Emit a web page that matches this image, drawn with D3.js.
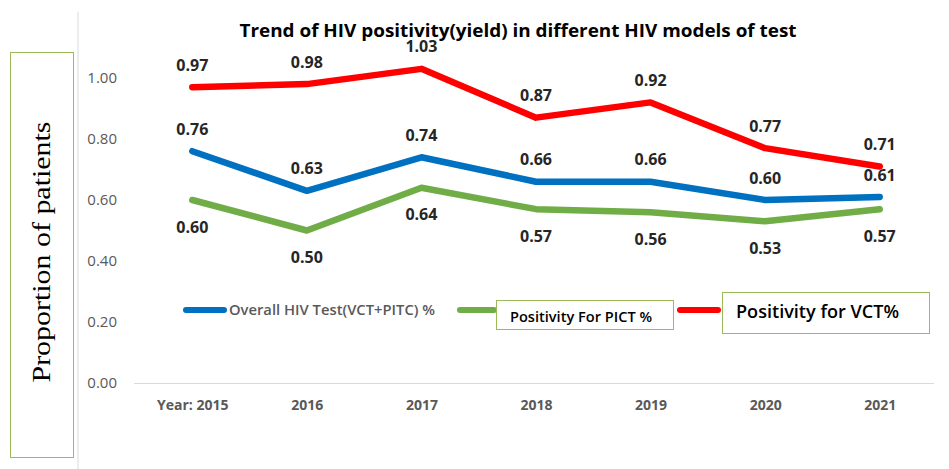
<!DOCTYPE html>
<html>
<head>
<meta charset="utf-8">
<script src="https://cdn.jsdelivr.net/npm/d3@7"></script>
<style>
  body { margin: 0; background: #fff; }
  svg { display: block; }
</style>
</head>
<body>
<svg id="chart" width="949" height="469"></svg>
<script>
// chart data
var years = ["Year: 2015", "2016", "2017", "2018", "2019", "2020", "2021"];
var overallPct = [0.76, 0.63, 0.74, 0.66, 0.66, 0.60, 0.61];
var pictPct = [0.60, 0.50, 0.64, 0.57, 0.56, 0.53, 0.57];
var vctPct = [0.97, 0.98, 1.03, 0.87, 0.92, 0.77, 0.71];
var yTicks = [0, 0.2, 0.4, 0.6, 0.8, 1.0];
var seriesNames = ["Overall HIV Test(VCT+PITC) %", "Positivity For PICT %", "Positivity for VCT%"];

var series = [
    { name: seriesNames[0], values: overallPct, color: "#0070c0", dy: -22 },
    { name: seriesNames[1], values: pictPct, color: "#70ad47", dy: 27 },
    { name: seriesNames[2], values: vctPct, color: "#ff0000", dy: -22 }
];

var svg = d3.select("#chart");
var font = "'Open Sans', 'Noto Sans', sans-serif";

// Scales
var x = d3.scalePoint().domain(years).range([135, 937]).padding(0.5);
var y = d3.scaleLinear().domain([0, 1]).range([383, 78]);

// left divider line
svg.append("line")
    .attr("x1", 78).attr("x2", 78)
    .attr("y1", 12).attr("y2", 469)
    .attr("stroke", "#d9d9d9").attr("stroke-width", 1);

// y axis title box
svg.append("rect")
    .attr("x", 10.5).attr("y", 52.5)
    .attr("width", 63).attr("height", 405)
    .attr("fill", "none")
    .attr("stroke", "#9bbb59").attr("stroke-width", 1);

svg.append("text")
    .attr("transform", "translate(50,252) rotate(-90)")
    .attr("text-anchor", "middle")
    .attr("font-family", "'Liberation Serif', 'DejaVu Serif', serif")
    .attr("font-size", 26)
    .attr("textLength", 261)
    .attr("lengthAdjust", "spacingAndGlyphs")
    .attr("fill", "#000")
    .text("Proportion of patients");

// Title
svg.append("text")
    .attr("x", 518).attr("y", 37)
    .attr("text-anchor", "middle")
    .attr("font-family", font)
    .attr("font-weight", "bold")
    .attr("font-size", 17)
    .attr("textLength", 557)
    .attr("lengthAdjust", "spacingAndGlyphs")
    .attr("fill", "#000")
    .text("Trend of HIV positivity(yield) in different HIV models of test");

// y axis (labels only)
var yAxis = svg.append("g")
    .attr("transform", "translate(117,0)")
    .call(d3.axisLeft(y).tickValues(yTicks).tickFormat(d3.format(".2f")).tickSize(0).tickPadding(0));
yAxis.select(".domain").remove();
yAxis.selectAll("text")
    .attr("font-family", font)
    .attr("font-size", 15)
    .attr("fill", "#595959");

// x axis
var xAxis = svg.append("g")
    .attr("transform", "translate(0,383)")
    .call(d3.axisBottom(x).tickSize(0).tickPadding(17));
xAxis.select(".domain")
    .attr("d", "M134,0.5H934")
    .attr("stroke", "#d9d9d9");
xAxis.selectAll("text")
    .attr("font-family", font)
    .attr("font-weight", "bold")
    .attr("font-size", 14)
    .attr("fill", "#595959");

// lines
var line = d3.line()
    .x(function(d, i) { return x(years[i]); })
    .y(function(d) { return y(d); });

var g = svg.append("g");
series.forEach(function(s) {
    g.append("path")
        .datum(s.values)
        .attr("d", line)
        .attr("fill", "none")
        .attr("stroke", s.color)
        .attr("stroke-width", 6.5)
        .attr("stroke-linejoin", "round")
        .attr("stroke-linecap", "round");
});

// data labels
series.forEach(function(s) {
    g.append("g").selectAll("text")
        .data(s.values)
        .enter()
        .append("text")
        .attr("x", function(d, i) { return x(years[i]); })
        .attr("y", function(d) { return y(d) + s.dy; })
        .attr("dy", "0.35em")
        .attr("text-anchor", "middle")
        .attr("font-family", font)
        .attr("font-weight", "bold")
        .attr("font-size", 16)
        .attr("fill", "#262626")
        .text(function(d) { return d3.format(".2f")(d); });
});

// legend
var legend = svg.append("g");

function legendLine(x1, x2, yy, color) {
    legend.append("line")
        .attr("x1", x1).attr("x2", x2)
        .attr("y1", yy).attr("y2", yy)
        .attr("stroke", color)
        .attr("stroke-width", 6)
        .attr("stroke-linecap", "round");
}

legendLine(186, 224, 310, series[0].color);
legend.append("text")
    .attr("x", 229).attr("y", 315)
    .attr("font-family", font)
    .attr("font-weight", 600)
    .attr("font-size", 14)
    .attr("textLength", 206)
    .attr("lengthAdjust", "spacingAndGlyphs")
    .attr("fill", "#595959")
    .text(series[0].name);

legendLine(460, 494, 310, series[1].color);
legend.append("rect")
    .attr("x", 496.5).attr("y", 300.5)
    .attr("width", 177).attr("height", 29)
    .attr("fill", "#fff")
    .attr("stroke", "#9bbb59");
legend.append("text")
    .attr("x", 510).attr("y", 322)
    .attr("font-family", font)
    .attr("font-weight", 600)
    .attr("font-size", 14)
    .attr("textLength", 142)
    .attr("lengthAdjust", "spacingAndGlyphs")
    .attr("fill", "#000")
    .text(series[1].name);

legendLine(680, 718, 310, series[2].color);
legend.append("rect")
    .attr("x", 722.5).attr("y", 292.5)
    .attr("width", 207).attr("height", 41)
    .attr("fill", "#fff")
    .attr("stroke", "#9bbb59");
legend.append("text")
    .attr("x", 736).attr("y", 318)
    .attr("font-family", font)
    .attr("font-weight", 600)
    .attr("font-size", 18)
    .attr("textLength", 163)
    .attr("lengthAdjust", "spacingAndGlyphs")
    .attr("fill", "#000")
    .text(series[2].name);
</script>
</body>
</html>
